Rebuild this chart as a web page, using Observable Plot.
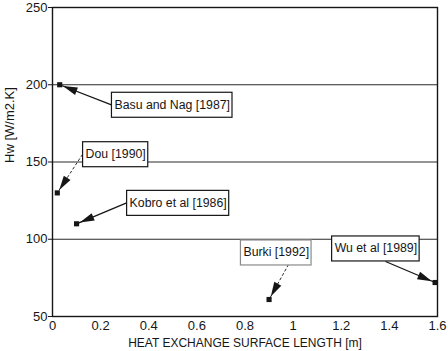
<!DOCTYPE html>
<html>
<head>
<meta charset="utf-8">
<script src="https://cdn.jsdelivr.net/npm/d3@7"></script>
<script src="https://cdn.jsdelivr.net/npm/@observablehq/plot@0.6"></script>
<style>
  html, body { margin: 0; padding: 0; background: #ffffff; }
  svg { display: block; }
</style>
</head>
<body>
<div id="chart"></div>
<script>
// ---- data ----
const sources = ["Basu and Nag [1987]", "Dou [1990]", "Kobro et al [1986]", "Burki [1992]", "Wu et al [1989]"];
const lengths = [0.03, 0.02, 0.1, 0.9, 1.59];      // heat exchange surface length [m]
const hw = [200, 130, 110, 61, 72];                  // Hw [W/m2.K]
// annotation anchors (data units)
const labelX = [0.245, 0.125, 0.308, 0.781, 1.16];
const labelY = [187, 155, 123.5, 91.4, 94];
const arrowX = [0.245, 0.125, 0.308, 0.981, 1.384];
const arrowY = [187, 155, 123.5, 83.7, 85.6];
const dashed = [false, true, false, true, false];
const boxGray = [false, false, false, true, false];
const xTicks = [0, 0.2, 0.4, 0.6, 0.8, 1, 1.2, 1.4, 1.6];
const yTicks = [50, 100, 150, 200, 250];
const gridY = [100, 150, 200];
const xLabel = "HEAT EXCHANGE SURFACE LENGTH [m]";
const yLabel = "Hw [W/m2.K]";

const idx = d3.range(sources.length);
const ink = "#161616";

function triHead(color) {
  const ns = "http://www.w3.org/2000/svg";
  const m = document.createElementNS(ns, "marker");
  m.setAttribute("viewBox", "-22 -6 24 12");
  m.setAttribute("markerWidth", 24);
  m.setAttribute("markerHeight", 12);
  m.setAttribute("markerUnits", "userSpaceOnUse");
  m.setAttribute("orient", "auto");
  m.setAttribute("refX", 0);
  m.setAttribute("refY", 0);
  m.setAttribute("overflow", "visible");
  const p = document.createElementNS(ns, "path");
  p.setAttribute("d", "M-3.5,0L-18,-4L-18,4Z");
  p.setAttribute("fill", ink);
  p.setAttribute("stroke", "none");
  m.appendChild(p);
  return m;
}

function build(marker) {
  return Plot.plot({
    width: 448,
    height: 351,
    marginLeft: 52,
    marginRight: 11,
    marginTop: 7,
    marginBottom: 35,
    style: {fontFamily: "Arial, 'Liberation Sans', Helvetica, sans-serif", fontSize: "13px", color: ink, background: "#ffffff"},
    x: {domain: [0, 1.6], label: null},
    y: {domain: [50, 250], label: null},
    marks: [
      Plot.ruleY(gridY, {stroke: "#2a2a2a", strokeWidth: 1.1}),
      Plot.frame({stroke: ink, strokeWidth: 1.4}),
      Plot.axisY({ticks: yTicks, tickSize: 4, tickPadding: 1, fontSize: 13, label: null, stroke: ink}),
      Plot.axisX({ticks: xTicks, tickSize: 0, tickPadding: 4, fontSize: 13, label: null, tickFormat: d => String(d)}),
      Plot.link(idx, {
        filter: i => !dashed[i],
        x1: i => arrowX[i], y1: i => arrowY[i], x2: i => lengths[i], y2: i => hw[i],
        stroke: ink, strokeWidth: 1.3, markerEnd: marker
      }),
      Plot.link(idx, {
        filter: i => dashed[i],
        x1: i => arrowX[i], y1: i => arrowY[i], x2: i => lengths[i], y2: i => hw[i],
        stroke: ink, strokeWidth: 0.9, strokeDasharray: "3,2", markerEnd: marker
      }),
      Plot.dot(idx, {x: i => lengths[i], y: i => hw[i], symbol: "square", r: 2.9, fill: ink, stroke: "none"}),
      Plot.text(idx, {
        x: i => labelX[i], y: i => labelY[i], text: i => sources[i],
        textAnchor: "start", lineAnchor: "middle", dx: 3, fontSize: 12.3, fill: ink
      }),
      Plot.text([xLabel], {frameAnchor: "bottom", dy: 27, lineAnchor: "middle", fontSize: 12, fill: ink}),
      Plot.text([yLabel], {frameAnchor: "left", rotate: -90, dx: -42.5, dy: 1, lineAnchor: "middle", fontSize: 13, fill: ink})
    ]
  });
}

let chart;
try { chart = build(triHead); } catch (e) { chart = build("arrow"); }
document.getElementById("chart").appendChild(chart);

// draw white boxes behind the annotation texts
const svgNS = "http://www.w3.org/2000/svg";
Array.from(chart.querySelectorAll("text")).forEach(t => {
  const k = sources.indexOf(t.textContent.trim());
  if (k < 0) return;
  const bb = t.getBBox();
  const r = document.createElementNS(svgNS, "rect");
  r.setAttribute("x", bb.x - 3);
  r.setAttribute("y", bb.y - 5.5);
  r.setAttribute("width", bb.width + 5);
  r.setAttribute("height", bb.height + 11);
  r.setAttribute("fill", "#ffffff");
  r.setAttribute("stroke", boxGray[k] ? "#8a8a8a" : ink);
  r.setAttribute("stroke-width", 1.2);
  const tr = t.getAttribute("transform");
  if (tr) r.setAttribute("transform", tr);
  t.parentNode.insertBefore(r, t);
});
</script>
</body>
</html>
